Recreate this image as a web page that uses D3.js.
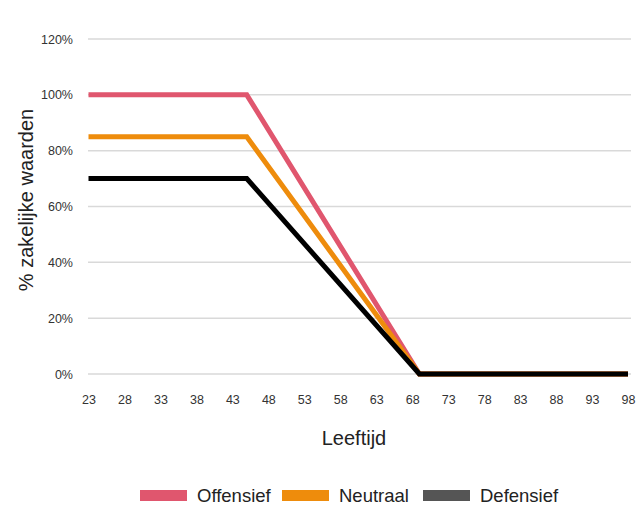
<!DOCTYPE html>
<html>
<head>
<meta charset="utf-8">
<script src="https://cdn.jsdelivr.net/npm/d3@7"></script>
<style>
  html, body { margin: 0; padding: 0; background: #fff; }
  text { font-family: "Liberation Sans", Arial, sans-serif; }
</style>
</head>
<body>
<svg id="chart" width="636" height="505"></svg>
<script>
// ---- data ----
const ages = [23, 45, 69, 98];
const offensief = [100, 100, 0, 0];
const neutraal = [85, 85, 0, 0];
const defensief = [70, 70, 0, 0];
const seriesNames = ["Offensief", "Neutraal", "Defensief"];
const xTicks = [23, 28, 33, 38, 43, 48, 53, 58, 63, 68, 73, 78, 83, 88, 93, 98];
const yTicks = [0, 20, 40, 60, 80, 100, 120];

const lineColors = ["#E0566E", "#EE8C0C", "#000000"];
const legendColors = ["#E0566E", "#EE8C0C", "#555555"];

const svg = d3.select("#chart");
const x = d3.scaleLinear().domain([23, 98]).range([88.5, 628]);
const y = d3.scaleLinear().domain([0, 120]).range([374, 39]);

// gridlines
svg.append("g").selectAll("line").data(yTicks).join("line")
  .attr("x1", 88).attr("x2", 631)
  .attr("y1", d => y(d)).attr("y2", d => y(d))
  .attr("stroke", "#d9d9d9").attr("stroke-width", 1.5);

// y axis labels
const yAxis = d3.axisLeft(y).tickValues(yTicks).tickFormat(d => d + "%").tickSize(0).tickPadding(0);
const gy = svg.append("g").attr("transform", "translate(73,0)").call(yAxis);
gy.select(".domain").remove();
gy.selectAll("text").attr("font-size", 12.5).attr("fill", "#333")
  .attr("font-family", "'Liberation Sans', Arial, sans-serif");

// x axis labels
const xAxis = d3.axisBottom(x).tickValues(xTicks).tickFormat(d3.format("d")).tickSize(0).tickPadding(0);
const gx = svg.append("g").attr("transform", "translate(0,395)").call(xAxis);
gx.select(".domain").remove();
gx.selectAll("text").attr("font-size", 12.5).attr("fill", "#333")
  .attr("font-family", "'Liberation Sans', Arial, sans-serif");

// lines
const series = [offensief, neutraal, defensief];
const line = d3.line().x((d, i) => x(ages[i])).y(d => y(d));
series.forEach((s, i) => {
  svg.append("path").datum(s)
    .attr("d", line)
    .attr("fill", "none")
    .attr("stroke", lineColors[i])
    .attr("stroke-width", 5)
    .attr("stroke-linejoin", "miter");
});

// axis titles
svg.append("text").attr("x", 354).attr("y", 445).attr("text-anchor", "middle")
  .attr("font-size", 20).attr("fill", "#222").text("Leeftijd");
svg.append("text").attr("transform", "translate(33,200) rotate(-90)")
  .attr("text-anchor", "middle").attr("font-size", 20).attr("fill", "#222")
  .text("% zakelijke waarden");

// legend
const legendX = [140, 282, 423];
const lg = svg.append("g");
seriesNames.forEach((n, i) => {
  lg.append("rect").attr("x", legendX[i]).attr("y", 490).attr("width", 47).attr("height", 11)
    .attr("fill", legendColors[i]);
  lg.append("text").attr("x", legendX[i] + 57).attr("y", 502).attr("font-size", 18.5)
    .attr("fill", "#222").text(n);
});
</script>
</body>
</html>
